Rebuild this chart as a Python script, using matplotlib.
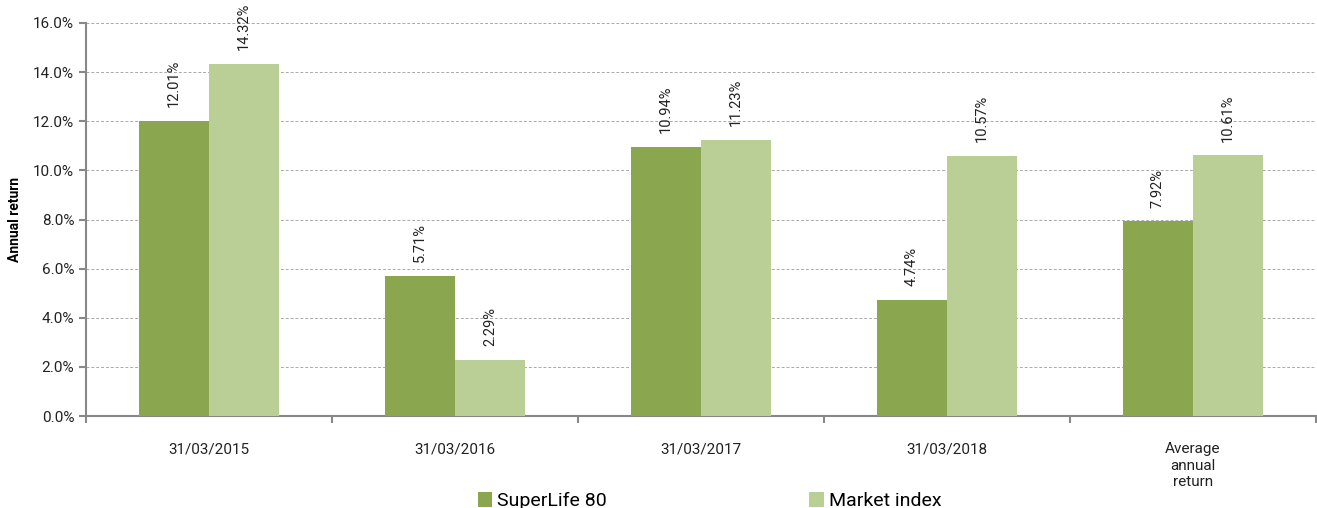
import matplotlib
matplotlib.use("Agg")
import matplotlib.pyplot as plt
import numpy as np
from matplotlib.ticker import FuncFormatter, MultipleLocator

categories = ["31/03/2015", "31/03/2016", "31/03/2017", "31/03/2018", "Average\nannual\nreturn"]
superlife = [12.01, 5.71, 10.94, 4.74, 7.92]
market = [14.32, 2.29, 11.23, 10.57, 10.61]
series_names = ["SuperLife 80", "Market index"]

dark_green = "#8AA64F"
light_green = "#BACF96"

plt.rcParams["font.family"] = ["Roboto", "DejaVu Sans"]

fig = plt.figure(figsize=(13.17, 5.08), dpi=100)
ax = fig.add_axes([86 / 1317, 1 - 416 / 508, 1230 / 1317, 393 / 508])

x = np.arange(len(categories))
w = 0.285
b1 = ax.bar(x - w / 2, superlife, w, color=dark_green, label=series_names[0], zorder=3)
b2 = ax.bar(x + w / 2, market, w, color=light_green, label=series_names[1], zorder=3)

for bars, vals in ((b1, superlife), (b2, market)):
    for r, v in zip(bars, vals):
        ax.annotate(f"{v:.2f}%", (r.get_x() + r.get_width() / 2, v),
                    xytext=(0, 10), textcoords="offset points",
                    rotation=90, ha="center", va="bottom", fontsize=10.5, color="#222222")

ax.set_xlim(-0.5, len(categories) - 0.5)
ax.set_ylim(0, 16)
ax.yaxis.set_major_locator(MultipleLocator(2))
ax.yaxis.set_major_formatter(FuncFormatter(lambda v, p: f"{v:.1f}%"))
ax.grid(axis="y", color="#aaaaaa", linestyle=(0, (3, 2)), linewidth=0.7, zorder=0)

# category boundary ticks on x
ax.set_xticks(np.arange(len(categories) + 1) - 0.5)
ax.set_xticklabels([])
ax.set_xticks(x, minor=True)
ax.set_xticklabels(categories, minor=True, fontsize=11, color="#222222")
ax.tick_params(axis="x", which="minor", length=0, pad=19)
ax.tick_params(axis="x", which="major", length=5, color="#888888", width=1.5, direction="out")
ax.tick_params(axis="y", length=5, color="#888888", width=1.5, labelsize=11, labelcolor="#222222")

for s in ("top", "right"):
    ax.spines[s].set_visible(False)
for s in ("left", "bottom"):
    ax.spines[s].set_color("#888888")
    ax.spines[s].set_linewidth(1.5)

ax.set_ylabel("Annual return", fontsize=10, fontweight="bold")
ax.yaxis.set_label_coords(-0.052, 0.5)

fig.legend(handles=[b1, b2], loc="lower left", bbox_to_anchor=(470 / 1317, -0.02),
           ncol=2, frameon=False, fontsize=14, handlelength=0.75, handleheight=0.75,
           handletextpad=0.25, columnspacing=10.4, borderaxespad=0)

fig.savefig("out.png", dpi=100)
